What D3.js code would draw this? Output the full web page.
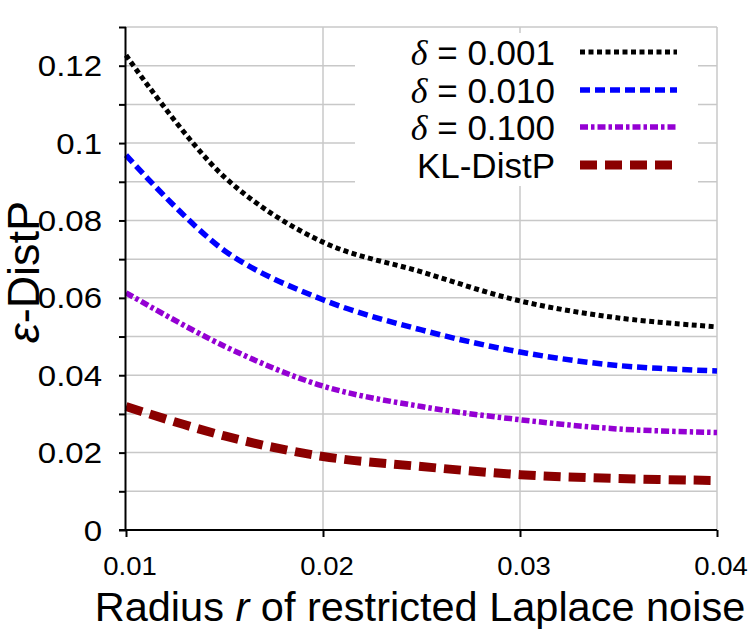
<!DOCTYPE html>
<html>
<head>
<meta charset="utf-8">
<script src="https://cdn.jsdelivr.net/npm/d3@7"></script>
<style>
  body { margin: 0; background: #fff; }
  text { font-family: "Liberation Sans", Arial, sans-serif; fill: #000; }
</style>
</head>
<body>
<svg id="chart" width="750" height="630"></svg>
<script>
// ---- data ----
const radius = [0.01, 0.015, 0.02, 0.025, 0.03, 0.035, 0.04];
const delta001 = [0.1227, 0.0912, 0.0744, 0.0667, 0.0592, 0.0548, 0.0525];
const delta010 = [0.0969, 0.0722, 0.0595, 0.0517, 0.0460, 0.0425, 0.0411];
const delta100 = [0.0613, 0.0475, 0.0372, 0.0319, 0.0285, 0.0261, 0.0252];
const klDistP  = [0.0319, 0.0243, 0.0190, 0.0164, 0.0143, 0.0133, 0.0128];
const xTicks = [0.01, 0.02, 0.03, 0.04];
const yTicksMajor = [0, 0.02, 0.04, 0.06, 0.08, 0.1, 0.12];
const yTicksMinor = [0, 0.01, 0.02, 0.03, 0.04, 0.05, 0.06, 0.07, 0.08, 0.09, 0.1, 0.11, 0.12, 0.13];
const seriesNames = ["0.001", "0.010", "0.100", "KL-DistP"];

const series = [
  { name: seriesNames[0], delta: true, values: delta001, color: "#000000", width: 5, dash: "5,3.5" },
  { name: seriesNames[1], delta: true, values: delta010, color: "#0000ff", width: 5.5, dash: "10,5" },
  { name: seriesNames[2], delta: true, values: delta100, color: "#9400d3", width: 5.5, dash: "8,3,3.5,3" },
  { name: seriesNames[3], delta: false, values: klDistP, color: "#8b0000", width: 9, dash: "17,8" }
];

const svg = d3.select("#chart");
const pLeft = 126, pRight = 717, pTop = 27, pBottom = 530;

const x = d3.scaleLinear().domain([0.01, 0.04]).range([pLeft, pRight]);
const y = d3.scaleLinear().domain([0, 0.13]).range([pBottom, pTop]);

// gridlines
const grid = svg.append("g");
grid.selectAll("line.h").data(yTicksMinor.slice(1)).join("line")
  .attr("class", "h")
  .attr("x1", pLeft).attr("x2", pRight)
  .attr("y1", d => y(d)).attr("y2", d => y(d))
  .attr("stroke", "#c8c8c8").attr("stroke-width", 1.5);
grid.selectAll("line.v").data(xTicks.slice(1)).join("line")
  .attr("class", "v")
  .attr("x1", d => x(d)).attr("x2", d => x(d))
  .attr("y1", pTop).attr("y2", pBottom)
  .attr("stroke", "#c8c8c8").attr("stroke-width", 1.5);

// lines
const line = d3.line().x((d, i) => x(radius[i])).y(d => y(d)).curve(d3.curveCatmullRom.alpha(0.5));
svg.append("g").selectAll("path").data(series).join("path")
  .attr("d", d => line(d.values))
  .attr("fill", "none")
  .attr("stroke", d => d.color)
  .attr("stroke-width", d => d.width)
  .attr("stroke-dasharray", d => d.dash);

// axes
const yAxis = d3.axisLeft(y).tickValues(yTicksMinor).tickSize(7).tickFormat("");
const gy = svg.append("g").attr("transform", `translate(${pLeft},0)`).call(yAxis);
gy.select(".domain").attr("stroke", "#000").attr("stroke-width", 2).attr("d", `M-0.5,${pTop}V${pBottom}`);
gy.selectAll(".tick line").attr("stroke", "#000").attr("stroke-width", 2);

const xAxis = d3.axisBottom(x).tickValues(xTicks).tickSize(7).tickFormat("");
const gx = svg.append("g").attr("transform", `translate(0,${pBottom})`).call(xAxis);
gx.select(".domain").attr("stroke", "#000").attr("stroke-width", 2).attr("d", `M${pLeft - 7},0H${pRight}`);
gx.selectAll(".tick line").attr("stroke", "#000").attr("stroke-width", 2);

// tick labels
svg.append("g").selectAll("text").data(yTicksMajor).join("text")
  .attr("transform", d => `translate(${pLeft - 24},${y(d)}) scale(1.1,1)`)
  .attr("dy", "0.35em")
  .attr("text-anchor", "end").style("font-size", "30px")
  .text(d => String(+d.toFixed(2)));
svg.append("g").selectAll("text").data(xTicks).join("text")
  .attr("transform", d => `translate(${x(d) + 4},575) scale(1.1,1)`)
  .attr("text-anchor", "middle").style("font-size", "25px")
  .text(d => d.toFixed(2));

// axis titles
const xt = svg.append("text").attr("x", 420).attr("y", 621).attr("text-anchor", "middle").style("font-size", "41.5px");
xt.append("tspan").text("Radius ");
xt.append("tspan").style("font-style", "italic").text("r");
xt.append("tspan").text(" of restricted Laplace noise");

const yt = svg.append("text").attr("transform", "translate(39,272) rotate(-90)").attr("text-anchor", "middle").style("font-size", "45px");
yt.append("tspan").style("font-style", "italic").text("ε");
yt.append("tspan").text("-DistP");

// legend
const lg = svg.append("g");
lg.append("rect").attr("x", 355).attr("y", 33).attr("width", 343).attr("height", 153).attr("fill", "#fff");
const rowY = [52, 90, 127, 165];
series.forEach((s, i) => {
  const t = lg.append("text").attr("x", 555).attr("y", rowY[i]).attr("dy", "0.36em")
    .attr("text-anchor", "end").style("font-size", "35px");
  if (s.delta) {
    t.append("tspan").style("font-family", "'Liberation Serif', serif").style("font-style", "italic").style("font-size", "36px").text("δ");
    t.append("tspan").text(" = " + s.name);
  } else {
    t.text(s.name);
  }
  lg.append("line").attr("x1", 580).attr("x2", 677).attr("y1", rowY[i]).attr("y2", rowY[i])
    .attr("stroke", s.color).attr("stroke-width", s.width).attr("stroke-dasharray", s.dash);
});
</script>
</body>
</html>
